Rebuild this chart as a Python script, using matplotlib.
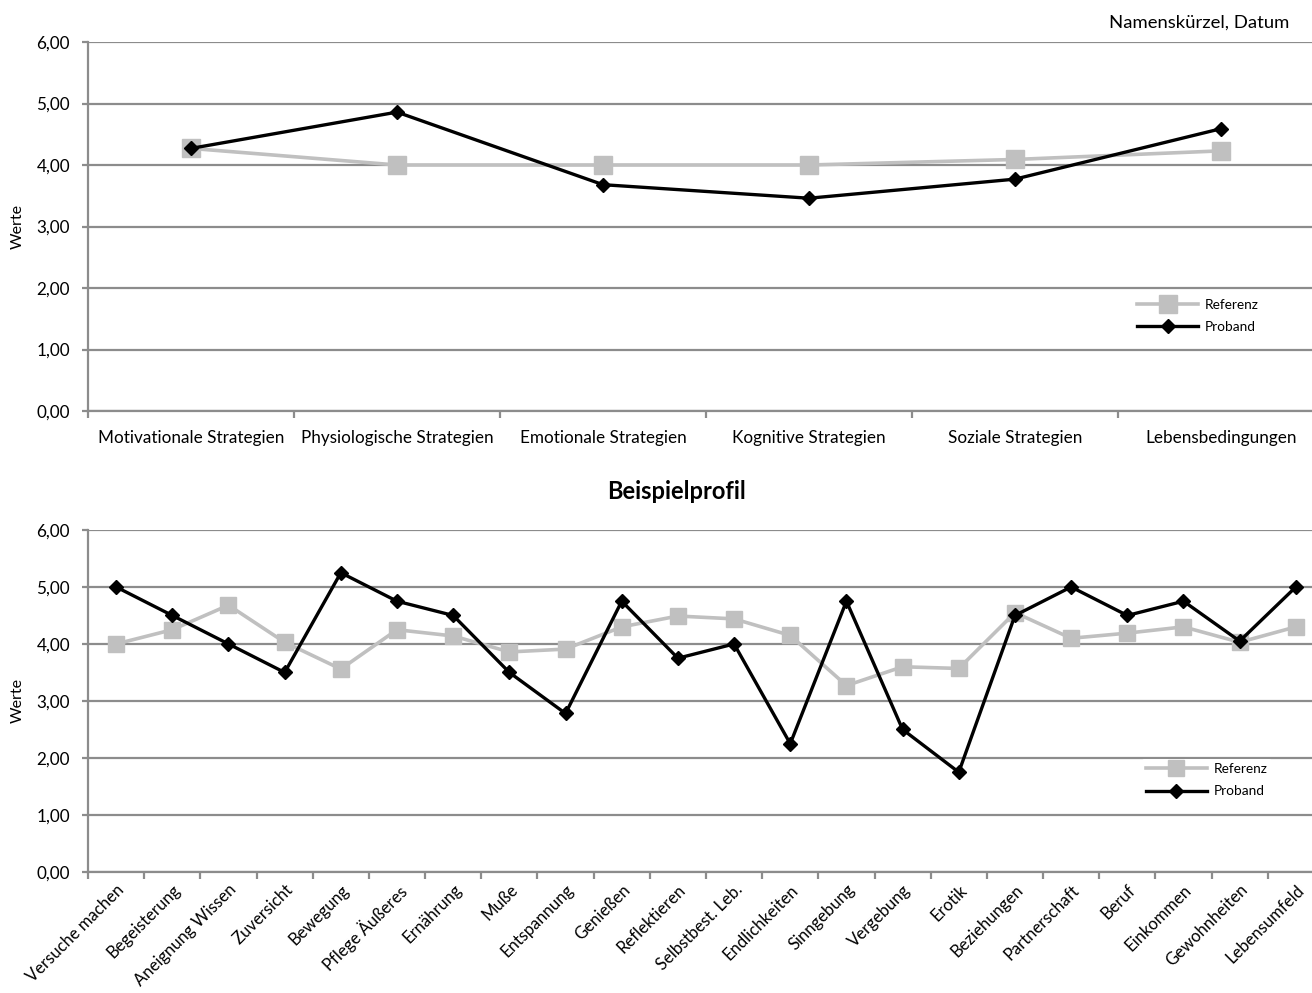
import numpy as np
import matplotlib.pyplot as plt
from matplotlib.ticker import FixedLocator, FuncFormatter

plt.rcParams['font.family'] = ['Lato', 'DejaVu Sans']

# Übersicht nach Strategiegruppen
gruppen = ['Motivationale Strategien', 'Physiologische Strategien', 'Emotionale Strategien',
           'Kognitive Strategien', 'Soziale Strategien', 'Lebensbedingungen']
gruppen_referenz = [4.27, 4.00, 4.00, 4.00, 4.09, 4.23]
gruppen_proband = [4.27, 4.86, 3.68, 3.46, 3.77, 4.59]

# Einzelne Skalen
skalen = ['Versuche machen', 'Begeisterung', 'Aneignung Wissen', 'Zuversicht', 'Bewegung',
          'Pflege Äußeres', 'Ernährung', 'Muße', 'Entspannung', 'Genießen', 'Reflektieren',
          'Selbstbest. Leb.', 'Endlichkeiten', 'Sinngebung', 'Vergebung', 'Erotik',
          'Beziehungen', 'Partnerschaft', 'Beruf', 'Einkommen', 'Gewohnheiten', 'Lebensumfeld']
skalen_referenz = [4.00, 4.25, 4.68, 4.03, 3.56, 4.25, 4.14, 3.86, 3.91, 4.30, 4.49,
                   4.44, 4.15, 3.27, 3.60, 3.57, 4.55, 4.10, 4.19, 4.30, 4.03, 4.30]
skalen_proband = [5.00, 4.50, 4.00, 3.50, 5.25, 4.75, 4.50, 3.50, 2.78, 4.75, 3.75,
                  4.00, 2.25, 4.75, 2.50, 1.75, 4.50, 5.00, 4.50, 4.75, 4.05, 5.00]

grau_ref = '#c0c0c0'
grid_col = '#8c8c8c'

fig = plt.figure(figsize=(13.12, 9.93), dpi=100)
ax1 = fig.add_axes([0.0671, 0.5861, 0.942, 0.3716])
ax2 = fig.add_axes([0.0671, 0.1219, 0.942, 0.3444])


def style_axes(ax, labels, ref, prob, ms_ref, legend_pos):
    n = len(labels)
    x = np.arange(n)
    ax.plot(x, ref, color=grau_ref, lw=2.6, marker='s', ms=ms_ref,
            mec=grau_ref, mfc=grau_ref, label='Referenz', zorder=3)
    ax.plot(x, prob, color='black', lw=2.4, marker='D', ms=7.5,
            mec='black', mfc='black', label='Proband', zorder=4)
    ax.set_xlim(-0.5, n - 0.5)
    ax.set_ylim(0, 6)
    ax.set_yticks(np.arange(0, 7, 1))
    ax.yaxis.set_major_formatter(FuncFormatter(lambda v, p: f'{v:.2f}'.replace('.', ',')))
    ax.grid(axis='y', color=grid_col, lw=1.6, zorder=1)
    ax.set_axisbelow(True)
    for s in ['top', 'right']:
        ax.spines[s].set_visible(False)
    for s in ['left', 'bottom']:
        ax.spines[s].set_color(grid_col)
        ax.spines[s].set_linewidth(1.6)
    ax.set_xticks(x)
    ax.xaxis.set_minor_locator(FixedLocator(np.arange(n + 1) - 0.5))
    ax.tick_params(axis='x', which='major', length=0, pad=14, labelsize=12.3)
    ax.tick_params(axis='x', which='minor', length=5, width=1.6, color=grid_col)
    ax.tick_params(axis='y', length=4, width=1.6, color=grid_col, labelsize=12.3, pad=9)
    ax.set_ylabel('Werte', fontsize=11.5, labelpad=8)
    leg = ax.legend(loc='center left', bbox_to_anchor=legend_pos, frameon=True,
                    fontsize=9.8, handlelength=4.5, labelspacing=0.75, borderpad=0.3,
                    handletextpad=0.5)
    leg.get_frame().set_edgecolor('none')
    leg.get_frame().set_facecolor('white')
    leg.get_frame().set_alpha(1)


style_axes(ax1, gruppen, gruppen_referenz, gruppen_proband, 13, (0.84, 0.258))
ax1.set_xticklabels(gruppen)

style_axes(ax2, skalen, skalen_referenz, skalen_proband, 11, (0.847, 0.268))
ax2.set_xticklabels(skalen, rotation=45, ha='right', rotation_mode='anchor')
ax2.tick_params(axis='x', which='major', pad=7, labelsize=12)
ax2.set_title('Beispielprofil', fontsize=17, fontweight='bold', pad=22, x=0.476)

fig.text(0.983, 0.977, 'Namenskürzel, Datum', ha='right', va='center', fontsize=13.3)

fig.savefig('out.png', dpi=100)
